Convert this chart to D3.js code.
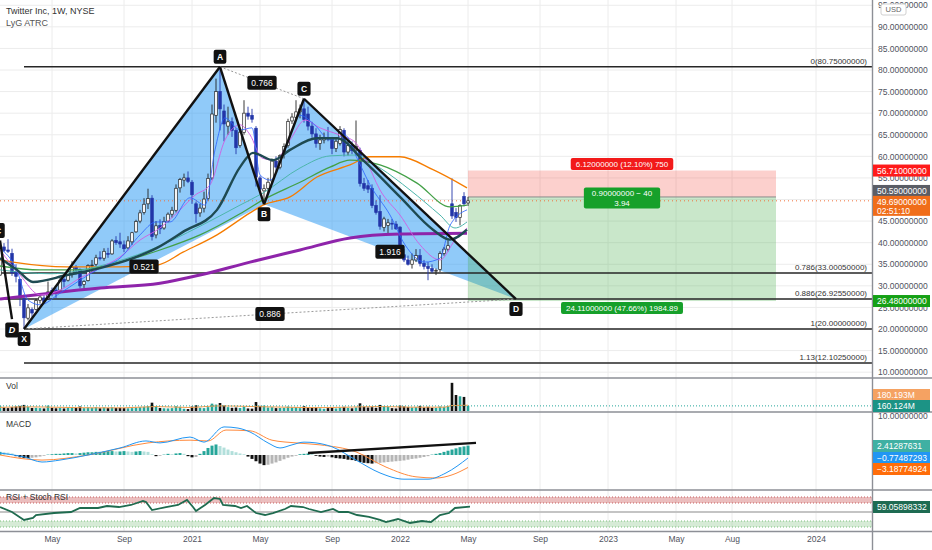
<!DOCTYPE html>
<html><head><meta charset="utf-8">
<script src="https://cdn.jsdelivr.net/npm/d3@7"></script>
<style>
body{margin:0;background:#fff;}
svg{display:block;font-family:"Liberation Sans",Arial,sans-serif;}
</style></head><body>
<svg id="c" width="932" height="550"></svg>
<script>
// ---------------- DATA ----------------
const firstWeek = "2020-01-27";
const opens = [33.5,32.5,39.0,38.3,37.5,33.3,31.5,27.0,22.5,24.5,
24.5,26.6,27.2,27.0,28.9,29.0,29.0,31.5,31.3,33.0,
34.3,33.8,30.3,31.2,34.8,35.0,36.5,36.4,37.5,37.4,
40.5,40.2,39.5,38.8,40.2,42.5,45.0,47.0,49.0,50.3,
41.8,44.0,43.4,45.0,46.6,47.5,52.7,54.5,55.0,54.0,
49.0,46.9,48.0,50.2,55.0,69.5,75.0,70.5,67.0,68.0,
66.0,62.5,65.5,70.0,69.5,66.5,55.0,52.0,52.6,54.3,
58.9,57.5,60.5,62.5,68.2,69.0,70.3,71.0,69.8,67.0,
65.2,63.0,63.8,64.4,64.0,61.8,63.0,66.0,61.0,62.5,
61.5,61.4,53.7,53.2,52.6,48.6,47.2,43.5,44.0,44.5,
44.3,43.6,37.2,36.0,35.0,36.0,37.0,35.2,34.5,34.0,
33.4,33.8,37.5,38.5,49.0,47.0,45.8,50.7,49.2];
const highs = [34.4,39.5,39.9,40.8,38.6,35.0,31.7,28.0,25.8,25.0,
27.0,28.0,27.8,31.0,29.6,29.5,32.0,32.6,33.8,35.7,
34.8,34.0,31.3,35.0,36.0,37.2,38.0,38.7,38.8,40.8,
41.5,42.3,40.5,41.5,42.5,45.3,47.6,50.3,52.5,51.0,
45.0,45.4,46.0,47.0,48.3,53.5,55.0,56.0,56.5,54.5,
49.5,49.0,51.8,56.0,72.0,78.0,80.75,72.0,71.5,69.0,
66.5,66.0,73.0,71.5,71.0,67.0,55.5,53.5,55.0,59.5,
60.0,60.5,63.0,68.7,70.0,73.0,72.0,73.34,71.5,68.0,
66.5,65.0,65.5,66.8,64.5,64.0,67.0,66.5,63.5,63.5,
68.3,62.0,55.0,54.5,53.5,49.8,51.0,46.0,45.5,45.5,
45.0,43.8,38.5,37.0,37.5,38.5,38.5,36.0,35.5,35.0,
34.0,38.0,39.0,40.5,54.9,48.0,48.9,51.7,50.6];
const lows = [31.9,32.3,37.8,37.6,32.3,30.8,25.3,20.0,22.0,22.8,
24.3,25.9,25.9,26.7,27.6,27.2,28.9,29.6,31.0,31.9,
32.6,29.4,29.5,31.0,33.2,34.6,35.9,35.8,36.5,37.2,
39.5,38.8,37.8,38.5,39.5,42.3,44.5,46.5,47.8,40.5,
41.0,42.0,43.0,44.7,45.8,47.0,51.6,53.0,53.8,49.0,
44.6,46.0,47.0,49.8,54.5,67.8,66.0,63.5,65.0,64.5,
60.5,62.0,65.0,68.5,67.8,53.0,51.5,48.9,51.5,54.0,
56.5,57.0,59.5,62.0,67.5,68.5,68.8,67.8,66.0,64.3,
62.0,61.5,63.0,63.5,60.5,61.0,62.5,60.0,60.2,60.5,
61.0,53.0,52.0,51.5,48.0,46.5,43.0,42.6,42.0,43.0,
43.0,36.7,35.5,34.7,34.0,35.5,34.5,33.8,31.3,33.0,
32.5,33.2,37.0,38.0,45.5,44.8,44.0,48.4,48.5];
const closes = [32.4,38.9,38.2,38.0,33.0,32.2,27.6,22.6,24.9,23.7,
26.6,27.4,26.3,28.6,28.8,28.6,31.3,31.0,33.3,34.3,
33.8,30.0,31.0,34.7,34.8,36.5,36.4,38.0,37.3,40.4,
40.0,39.7,38.6,40.4,42.3,44.9,46.9,48.9,50.2,41.4,
43.9,43.2,44.9,46.6,47.5,52.6,54.6,55.0,54.2,51.1,
46.7,48.0,50.1,54.9,69.8,75.0,71.0,67.5,68.0,66.0,
62.0,65.6,70.0,69.3,68.6,55.2,52.4,52.5,54.0,58.9,
57.5,60.2,62.3,68.1,69.1,70.3,71.0,68.5,67.0,65.2,
63.0,63.8,64.4,64.0,61.8,63.5,66.2,61.0,62.5,61.3,
62.3,53.7,52.6,52.4,48.6,47.0,43.8,45.5,44.6,44.3,
43.2,37.2,36.0,35.0,36.0,37.0,35.2,34.5,34.0,33.4,
33.6,37.5,38.5,39.3,46.2,45.8,48.6,49.0,49.69];
// weekly volume, millions
const volumes = [70,150,110,90,120,140,160,190,130,95,
100,90,80,170,100,85,100,80,110,120,
95,140,90,110,100,120,85,110,90,115,
95,100,90,85,90,110,120,130,150,260,
150,95,85,80,90,150,130,70,60,140,
180,100,90,120,230,200,250,170,120,100,
110,95,130,80,75,280,160,170,110,120,
90,95,100,140,110,120,90,150,100,95,
100,85,70,90,95,80,110,130,100,85,
110,240,130,110,120,100,190,150,130,90,
80,170,140,120,110,120,160,110,130,100,
95,140,130,150,880,500,460,440,160];
const volMaWeeks = [0,8,16,24,32,40,48,56,64,72,80,88,96,104,112,114,116,118];
const volMaValues = [110,130,115,100,100,140,110,160,140,120,105,120,140,120,120,170,175,180];

// moving averages (week index, price)
const maPurpleWeeks = [1,13.5,26,41,51,63.5,76,88.5,101,117.75];
const maPurpleValues = [26.96,28.3,29.5,30.6,32.5,35.5,38.3,41.1,42.0,42.2];
const maOrangeWeeks = [1,4.25,17.75,31,40.25,46.75,55.25,63.5,66.75,73.5,80.25,88.5,93.5,101,109.25,117.75];
const maOrangeValues = [36.0,35.5,34.4,34.4,34.8,37.8,41.8,46.9,48.7,50.6,55.2,58.0,59.9,59.9,56.9,52.7];
const maGreenWeeks = [1,11,21,31,41,51,61,66.75,76,83.5,88.5,96,105.25,113.5,117.75];
const maGreenValues = [34.6,33.7,33.7,35.5,38.3,41.8,46.7,49.9,54.0,57.5,59.1,58.0,53.8,48.3,48.7];
const maTealWeeks = [1,13.5,26,38.5,51,61,66.75,76,83.5,89.75,96,103.5,111,114.75,117.75];
const maTealValues = [33.7,32.8,34.6,38.3,43.8,48.7,51.5,57.3,60.1,60.3,57.3,52.2,46.4,43.4,44.8];
const maDarkWeeks = [1,5.25,9.25,17.75,26,34.25,40.25,46.75,55.25,61,64.25,69.25,73.5,80.25,85.25,91.75,101,109.25,113.5,117.75];
const maDarkValues = [36.4,33.7,30.9,32.5,34.1,36.4,38.8,42.5,47.6,57.5,60.8,59.1,61.5,64.2,64.2,59.1,50.6,43.0,40.7,43.0];
const maPinkWeeks = [1,6,11,16,21,26,31,36,41,46,49.75,53.5,57.25,61,63.5,66.5,69.75,73.5,77.25,81,86,89.75,92.25,96,101,106,111,114.75,117.75];
const maPinkValues = [38.3,32.5,27.9,29.0,31.8,34.1,36.7,40.6,43.4,47.6,51.0,53.4,63.8,67.3,65.0,59.6,59.1,63.8,68.4,66.6,64.9,63.3,59.6,52.2,46.4,39.5,36.0,40.6,43.4];
const maBlueWeeks = [1,5,8,11,16,21,26,31,36,40,43.5,48.5,52.25,54.75,57.25,61,64,66,68.5,72.25,76,79.75,83.5,87.25,90.5,93.5,98.5,102.25,107.25,111,113.5,117.75];
const maBlueValues = [38.7,34.1,26.7,25.6,28.3,31.3,34.1,36.4,41.8,44.8,44.8,50.4,48.7,61.5,68.9,66.1,66.6,55.7,54.5,61.5,69.5,67.2,63.8,64.9,59.1,53.4,46.4,39.5,35.5,36.4,44.0,47.6];

// MACD
const macdWeeks = [1,7,11.5,16,23,31,37.5,41,48.5,52,57,60.5,63.5,68,71,74,77,80,84,90,96,102,108,112.5,118];
const macdValues = [0.5,-0.5,-1.8,-1.3,0,1.8,3.6,3.1,4.6,3.3,7.2,6.9,5.9,3.1,1.8,2.6,3.3,3.1,2.1,-1.3,-4.6,-6.2,-6.2,-4.6,-0.77];
const signalWeeks = [1,11.5,23,38,48.5,53,57.5,63.5,69,75,81,90,97.5,105,110,114,118];
const signalValues = [0,-1.3,0,3.1,3.8,3.6,6.4,6.2,3.8,3.1,2.6,0.8,-3.1,-5.6,-5.9,-5.1,-3.19];
const histValues = [0.7,0.8,0.7,0.6,0.4,
-0.3,-0.6,-0.8,-0.8,-0.7,-0.6,-0.4,-0.2,
0.1,0.2,0.3,0.3,0.4,0.5,0.5,0.4,0.5,0.6,0.7,0.7,0.8,0.8,0.9,
1.0,1.0,0.9,0.9,1.0,0.9,0.8,0.9,1.0,0.9,0.8,
0.2,-0.3,-0.2,0.1,0.3,0.2,0.4,0.5,0.3,
-0.3,-0.6,-0.5,
0.3,1.0,1.8,2.4,2.7,
2.3,1.9,1.4,1.0,0.7,0.4,0.2,
-0.4,-1.0,-1.6,-2.2,-2.6,-2.5,-2.2,-1.9,
-1.5,-1.1,-0.7,-0.4,-0.2,
0.2,0.3,0.4,0.3,
-0.2,-0.4,-0.5,-0.4,-0.6,-0.8,
-0.9,-1.0,-1.2,-1.3,-1.5,-1.8,-2.0,-2.1,-2.2,-2.1,-2.0,
-1.9,-1.8,-1.7,-1.6,-1.5,-1.4,-1.2,-1.0,-0.9,-0.7,-0.5,-0.3,
0.1,0.3,0.5,0.8,1.1,1.4,1.7,2.0,2.2,2.41];
const macdTrendWeeks = [78,120];
const macdTrendValues = [0.5,3.1];

// RSI
const rsiWeeks = [1,4,7,9.25,10,14.5,18.75,21,23.25,25.5,27.75,30.75,33.75,36.75,37.5,39,42.5,45.5,47.75,49.25,50,52.25,54.5,56,56.75,59.75,61.25,62.75,65,67.25,69.25,72.25,73.75,76.75,78.25,81.25,84.25,85.75,88,90.25,93.25,96,97.5,100.5,103.5,106.5,108.75,111,113.25,114.75,118.5];
const rsiValues = [58.3,50,36.7,40,45,48.3,50,56.7,56.7,56.7,60,58.3,61.7,68.3,66.7,53.3,58.3,61.7,70,58.3,51.7,61.7,73.3,71.7,61.7,60,56.7,60,48.3,45,48.3,55,60,58.3,55,50,55,50,50,45,41.7,36.7,33.3,38.3,31.7,35,33.3,45,48.3,56.7,59.06];
const rsiUpperBand = [65,75];
const rsiLowerBand = [25,35];

// axes
const timeTickDates = ["2020-05-04","2020-09-07","2021-01-04","2021-05-03","2021-09-06","2022-01-03","2022-05-02","2022-09-05","2023-01-02","2023-05-01","2023-08-07","2024-01-01"];
const timeTickLabels = ["May","Sep","2021","May","Sep","2022","May","Sep","2023","May","Aug","2024"];
const priceTicks = [10,15,20,25,30,35,40,45,50,55,60,65,70,75,80,85,90,95];
const hiddenPriceLabels = [50];

// harmonic pattern
const patternNames = ["X","A","B","C","D"];
const patternDates = ["2020-03-16","2021-02-22","2021-05-10","2021-07-19","2022-07-25"];
const patternPrices = [20.0,80.75,48.9,73.34,26.9255];
const ratioLabels = ["0.521","0.766","1.916","0.886"];
const prevPatternNames = ["C","D"];
const prevPatternDates = ["2020-02-03","2020-02-24"];
const prevPatternPrices = [40.5,22.3];

// fib levels
const fibRatios = ["0","0.786","0.886","1","1.13"];
const fibPrices = [80.75,33.0005,26.9255,20.0,12.1025];
const fibStartDates = ["2020-03-16","2020-01-20","2020-01-20","2020-03-16","2020-03-16"];

// long position
const posDates = ["2022-05-02","2023-10-23"];
const posEntry = 50.59, posStop = 56.71, posTarget = 26.48;
const posTexts = ["6.12000000 (12.10%) 750","0.90000000 − 40","3.94","24.11000000 (47.66%) 1984.89"];
const lastPrice = 49.69, lastVol = 160.124;

// ---------------- CHART ----------------
const svg = d3.select("#c");
const pd = d3.timeParse("%Y-%m-%d");
const start = pd(firstWeek);
const wd = i => new Date(+start + i*604800000);
const PR = 872;
const x = d3.scaleTime().domain([pd("2021-01-04"), pd("2022-01-03")]).range([192,400]);
const xi = i => x(wd(i));
const y = d3.scaleLinear().domain([20,80]).range([329,70]);
const yV = d3.scaleLinear().domain([0,1000]).range([411,379]);
const yM = d3.scaleLinear().domain([-10,10]).range([494,416]);
const yR = d3.scaleLinear().domain([0,100]).range([542,482]);
const FONT = 8.5, TXT = "#50535e";

const defs = svg.append("defs");
[["cMain",0,0,PR,377],["cVol",0,379,PR,32],["cMacd",0,413,PR,76],["cRsi",0,491,PR,40]].forEach(c=>{
  defs.append("clipPath").attr("id",c[0]).append("rect").attr("x",c[1]).attr("y",c[2]).attr("width",c[3]).attr("height",c[4]);
});

// grid
const grid = svg.append("g");
timeTickDates.forEach(d=>{
  grid.append("line").attr("x1",x(pd(d))).attr("x2",x(pd(d))).attr("y1",0).attr("y2",531).attr("stroke","#ececec");
});
priceTicks.forEach(v=>{
  grid.append("line").attr("x1",0).attr("x2",PR).attr("y1",y(v)).attr("y2",y(v)).attr("stroke","#ececec");
});

const mainG = svg.append("g").attr("clip-path","url(#cMain)");
const P = patternNames.map((n,i)=>[x(pd(patternDates[i])), y(patternPrices[i])]);

// pattern fill
mainG.append("path").attr("d",d3.line()([P[0],P[1],P[2]])+"Z").attr("fill","rgba(33,150,243,0.5)");
mainG.append("path").attr("d",d3.line()([P[2],P[3],P[4]])+"Z").attr("fill","rgba(33,150,243,0.5)");

// position tool
const px0 = x(pd(posDates[0])), px1 = x(pd(posDates[1]));
mainG.append("rect").attr("x",px0).attr("width",px1-px0).attr("y",y(posStop)).attr("height",y(posEntry)-y(posStop)).attr("fill","rgba(244,67,54,0.25)");
mainG.append("rect").attr("x",px0).attr("width",px1-px0).attr("y",y(posEntry)).attr("height",y(posTarget)-y(posEntry)).attr("fill","rgba(76,175,80,0.3)");
mainG.append("line").attr("x1",px0).attr("x2",px1).attr("y1",y(posEntry)).attr("y2",y(posEntry)).attr("stroke","#8a8a8a").attr("stroke-width",1);

// fib lines
fibPrices.forEach((v,i)=>{
  mainG.append("line").attr("x1",x(pd(fibStartDates[i]))).attr("x2",PR).attr("y1",y(v)).attr("y2",y(v)).attr("stroke","#262626").attr("stroke-width",1.5);
  mainG.append("text").attr("x",867).attr("y",y(v)-3).attr("text-anchor","end").attr("font-size",8).attr("fill","#333").text(fibRatios[i]+"("+v.toFixed(8)+")");
});

// last price dotted line
mainG.append("line").attr("x1",0).attr("x2",PR).attr("y1",y(lastPrice)).attr("y2",y(lastPrice)).attr("stroke","#f0703a").attr("stroke-dasharray","1,3").attr("stroke-width",1);

// candles
const cw = 2.6;
closes.forEach((c,i)=>{
  const o=opens[i], up = c>=o, cx = xi(i);
  const col = up ? "#222" : "#2336a8";
  mainG.append("line").attr("x1",cx).attr("x2",cx).attr("y1",y(highs[i])).attr("y2",y(lows[i])).attr("stroke",col).attr("stroke-width",0.9);
  const t = y(Math.max(o,c)), b = y(Math.min(o,c));
  mainG.append("rect").attr("x",cx-cw/2).attr("y",t).attr("width",cw).attr("height",Math.max(0.8,b-t))
    .attr("fill",up?"#fff":"#2336a8").attr("stroke",col).attr("stroke-width",0.7);
});

// moving averages
function ma(weeks, vals, color, w){
  const pts = weeks.map((wk,i)=>[xi(wk), y(vals[i])]);
  mainG.append("path").attr("d",d3.line().curve(d3.curveMonotoneX)(pts)).attr("fill","none").attr("stroke",color).attr("stroke-width",w);
}
ma(maPurpleWeeks, maPurpleValues, "#8e24aa", 3);
ma(maOrangeWeeks, maOrangeValues, "#f57c00", 1.3);
ma(maGreenWeeks, maGreenValues, "#43a047", 1.3);
ma(maTealWeeks, maTealValues, "#4db6ac", 1);
ma(maPinkWeeks, maPinkValues, "#d05ce3", 0.9);
ma(maBlueWeeks, maBlueValues, "#2962ff", 0.8);
ma(maDarkWeeks, maDarkValues, "#1e4a52", 2.4);

// pattern lines
const pl = (a,b,dash,col,w)=>mainG.append("line").attr("x1",a[0]).attr("y1",a[1]).attr("x2",b[0]).attr("y2",b[1])
  .attr("stroke",col).attr("stroke-width",w).attr("stroke-dasharray",dash);
pl(P[1],P[3],"2,2","#9a9a9a",1);
pl(P[0],P[4],"2,2","#9a9a9a",1);
[[0,1],[1,2],[2,3],[3,4]].forEach(s=>pl(P[s[0]],P[s[1]],null,"#111",2.4));
const PP = prevPatternNames.map((n,i)=>[x(pd(prevPatternDates[i])), y(prevPatternPrices[i])]);
pl(PP[0],PP[1],null,"#111",2.4);

// labels
function box(parent, cx, cy, lines, bg, fg, fs, padX, h, rx){
  const g = parent.append("g");
  const lh = fs+1.5;
  const ts = lines.map((s,k)=>g.append("text").attr("x",cx).attr("y",cy+(k-(lines.length-1)/2)*lh).attr("dy","0.36em")
    .attr("text-anchor","middle").attr("font-size",fs).attr("fill",fg).text(s));
  const w = d3.max(ts,t=>t.node().getComputedTextLength())+2*padX;
  g.insert("rect","text").attr("x",cx-w/2).attr("y",cy-h/2).attr("width",w).attr("height",h).attr("rx",rx).attr("fill",bg);
  return g;
}
const labelG = svg.append("g");
const mid = (a,b)=>[(a[0]+b[0])/2,(a[1]+b[1])/2];
[[0,2],[1,3],[2,4],[0,4]].forEach((s,i)=>{
  const m = mid(P[s[0]],P[s[1]]);
  box(labelG, m[0], m[1], [ratioLabels[i]], "#111", "#fff", 8.5, 4, 14, 2);
});
const below = {X:true,B:true,D:true};
patternNames.forEach((n,i)=>{
  const p = P[i];
  const g = box(labelG, p[0], p[1]+(below[n]?10:-10), [n], "#111", "#fff", 8.5, 3.5, 14, 2);
  g.selectAll("text").attr("font-weight","bold");
});
prevPatternNames.forEach((n,i)=>{
  const p = PP[i];
  const g = box(labelG, p[0]+(n==="C"?-2:0), p[1]+(n==="C"?-10:11), [n], "#111", "#fff", 9, 3.5, 15, 2);
  g.selectAll("text").attr("font-weight","bold").attr("font-style", n==="D"?"italic":"normal");
});
const pcx = (px0+px1)/2;
box(labelG, pcx, y(posStop)-6.5, [posTexts[0]], "#f21a1a", "#fff", 8, 5, 12, 2);
box(labelG, pcx, y(posEntry)+1, [posTexts[1],posTexts[2]], "#16a02a", "#fff", 8, 8, 21, 2);
box(labelG, pcx, y(posTarget)+7, [posTexts[3]], "#16a02a", "#fff", 8, 5, 12, 2);

// ---------- volume pane ----------
const volG = svg.append("g").attr("clip-path","url(#cVol)");
volumes.forEach((v,i)=>{
  const up = closes[i]>=opens[i];
  volG.append("rect").attr("x",xi(i)-1.3).attr("width",2.6).attr("y",yV(v)).attr("height",yV(0)-yV(v)).attr("fill",up?"#26a69a":"#111");
});
volG.append("path").attr("d",d3.line().curve(d3.curveMonotoneX)(volMaWeeks.map((w,i)=>[xi(w),yV(volMaValues[i])])))
  .attr("fill","none").attr("stroke","#f59b4c").attr("stroke-width",1);
volG.append("line").attr("x1",0).attr("x2",PR).attr("y1",yV(lastVol)).attr("y2",yV(lastVol)).attr("stroke","#26a69a").attr("stroke-dasharray","1,2");

// ---------- MACD pane ----------
const mg = svg.append("g").attr("clip-path","url(#cMacd)");
histValues.forEach((v,i)=>{
  const prev = i>0?histValues[i-1]:v;
  let col;
  if (v>=0) col = v>=prev ? "#26a69a" : "#b2dfdb";
  else col = v<=prev ? "#111" : "#b5b5b5";
  const a = yM(0), b = yM(v);
  mg.append("rect").attr("x",xi(i)-1.5).attr("width",3).attr("y",Math.min(a,b)).attr("height",Math.abs(a-b)).attr("fill",col);
});
const ml = (wks,vals,col,w)=>mg.append("path").attr("d",d3.line().curve(d3.curveMonotoneX)(wks.map((wk,i)=>[xi(wk),yM(vals[i])])))
  .attr("fill","none").attr("stroke",col).attr("stroke-width",w);
ml(signalWeeks, signalValues, "#ff8a3d", 1);
ml(macdWeeks, macdValues, "#2196f3", 1);
mg.append("line").attr("x1",xi(macdTrendWeeks[0])).attr("y1",yM(macdTrendValues[0])).attr("x2",xi(macdTrendWeeks[1])).attr("y2",yM(macdTrendValues[1]))
  .attr("stroke","#111").attr("stroke-width",2.4);

// ---------- RSI pane ----------
const rg = svg.append("g").attr("clip-path","url(#cRsi)");
[[rsiUpperBand,"rgba(205,92,92,0.4)","#c76060"],[rsiLowerBand,"rgba(120,190,120,0.3)","#7cc07c"]].forEach(bd=>{
  rg.append("rect").attr("x",0).attr("width",PR).attr("y",yR(bd[0][1])).attr("height",yR(bd[0][0])-yR(bd[0][1])).attr("fill",bd[1]);
  bd[0].forEach(v=>rg.append("line").attr("x1",0).attr("x2",PR).attr("y1",yR(v)).attr("y2",yR(v)).attr("stroke",bd[2]).attr("stroke-dasharray","1,2"));
});
rg.append("line").attr("x1",0).attr("x2",PR).attr("y1",yR(50)).attr("y2",yR(50)).attr("stroke","#c4c4c4").attr("stroke-width",2);
rg.append("path").attr("d",d3.line()(rsiWeeks.map((wk,i)=>[xi(wk),yR(rsiValues[i])]))).attr("fill","none").attr("stroke","#1f6b4f").attr("stroke-width",1.8);

// ---------- frame ----------
[378,412,490].forEach(v=>svg.append("line").attr("x1",0).attr("x2",932).attr("y1",v).attr("y2",v).attr("stroke","#8d8f96").attr("stroke-width",1.6));
svg.append("line").attr("x1",0).attr("x2",932).attr("y1",531.5).attr("y2",531.5).attr("stroke","#8d8f96").attr("stroke-width",1.6);
svg.append("line").attr("x1",PR+0.5).attr("x2",PR+0.5).attr("y1",0).attr("y2",550).attr("stroke","#8d8f96").attr("stroke-width",1.4);

// time axis
const xAxis = d3.axisBottom(x).tickValues(timeTickDates.map(pd)).tickFormat((d,i)=>timeTickLabels[i]).tickSize(0).tickPadding(0);
const xa = svg.append("g").attr("transform","translate(0,536)").call(xAxis);
xa.select(".domain").remove();
xa.selectAll("text").attr("font-size",FONT).attr("fill",TXT).attr("font-family","Liberation Sans, Arial").attr("dy","0.71em");

// price axis (label at 50 sits fully under the price badges)
const yAxis = d3.axisRight(y).tickValues(priceTicks.filter(v=>!hiddenPriceLabels.includes(v))).tickFormat(d=>d.toFixed(8)).tickSize(0).tickPadding(6);
const ya = svg.append("g").attr("transform",`translate(${PR},0)`).call(yAxis);
ya.select(".domain").remove();
ya.selectAll("text").attr("font-size",FONT).attr("fill",TXT).attr("font-family","Liberation Sans, Arial");
svg.append("text").attr("x",878).attr("y",yM(10)).attr("dy","0.35em").attr("font-size",FONT).attr("fill",TXT).text("10.00000000");

// axis badges
function axBadge(yc, lines, bg, fg){
  const h = lines.length>1 ? 20 : 12;
  svg.append("rect").attr("x",873).attr("y",yc-6).attr("width",57).attr("height",h).attr("fill",bg);
  lines.forEach((s,k)=>svg.append("text").attr("x",877).attr("y",yc+k*9).attr("dy","0.35em").attr("font-size",FONT).attr("fill",fg).text(s));
}
axBadge(y(posStop), [posStop.toFixed(8)], "#ff1a1a", "#fff");
axBadge(y(posEntry)-6, [posEntry.toFixed(8)], "#5a5d66", "#fff");
axBadge(y(lastPrice)+1, [lastPrice.toFixed(8),"02:51:10"], "#f06d1a", "#fff");
axBadge(y(posTarget), [posTarget.toFixed(8)], "#15a015", "#fff");
axBadge(395, ["180.193M"], "#f5a262", "#fff");
axBadge(406, [lastVol.toFixed(3)+"M"], "#1c9385", "#fff");
axBadge(446, ["2.41287631"], "#3fb0a3", "#fff");
axBadge(458, ["\u22120.77487293"], "#2196f3", "#fff");
axBadge(469, ["\u22123.18774924"], "#ff6d0a", "#fff");
axBadge(507, ["59.05898332"], "#1e6b52", "#fff");

// USD
svg.append("rect").attr("x",881).attr("y",4).attr("width",25).attr("height",11).attr("rx",2).attr("fill","#fff").attr("stroke","#d0d0d0");
svg.append("text").attr("x",893.5).attr("y",9.5).attr("dy","0.35em").attr("text-anchor","middle").attr("font-size",7.5).attr("fill","#666").text("USD");

// titles
svg.append("text").attr("x",6).attr("y",14).attr("font-size",9).attr("fill","#333").text("Twitter Inc, 1W, NYSE");
svg.append("text").attr("x",6).attr("y",26).attr("font-size",9).attr("fill","#555").text("LyG ATRC");
svg.append("text").attr("x",6).attr("y",389).attr("font-size",8.5).attr("fill","#333").text("Vol");
svg.append("text").attr("x",6).attr("y",427).attr("font-size",8.5).attr("fill","#333").text("MACD");
svg.append("text").attr("x",6).attr("y",500).attr("font-size",8.5).attr("fill","#333").text("RSI + Stoch RSI");
</script></body></html>
